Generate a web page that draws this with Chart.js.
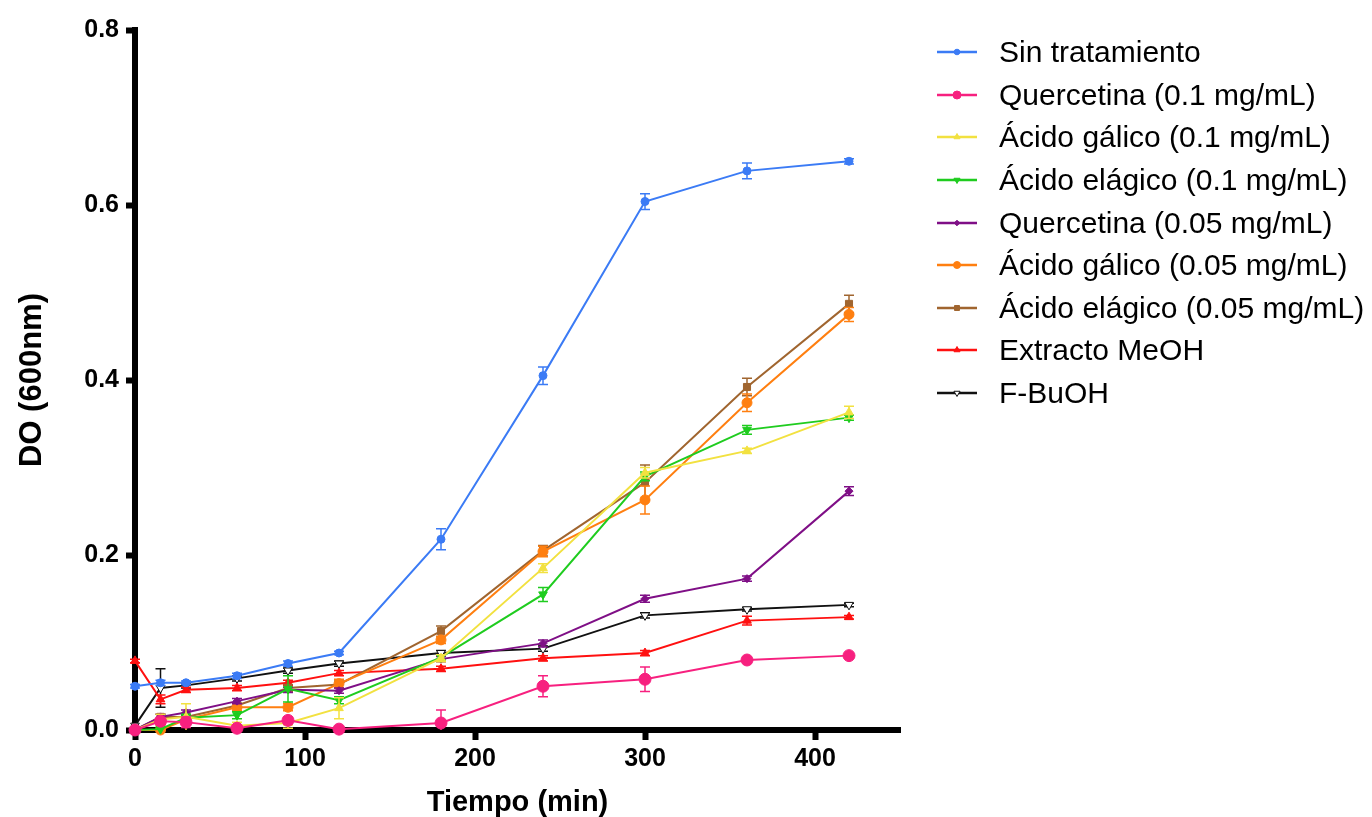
<!DOCTYPE html>
<html>
<head>
<meta charset="utf-8">
<script src="https://cdn.jsdelivr.net/npm/chart.js@4"></script>
<style>
  body { margin: 0; background: #fff; font-family: 'Liberation Sans', Arial, sans-serif; }
  #wrap { position: relative; width: 1372px; height: 817px; }
  #legend { position: absolute; left: 936px; top: 31px; }
  .item { height: 42.6px; display: flex; align-items: center; font-size: 30px; color: #000; white-space: nowrap; }
  .item canvas { margin-right: 21px; }
</style>
</head>
<body>
<div id="wrap">
  <canvas id="growthChart" width="1372" height="817"></canvas>
  <div id="legend"></div>
</div>
<script>
// Time points (min)
let tiempo = [ 0, 15, 30, 60, 90, 120, 180, 240, 300, 360, 420 ];

// DO (600nm) per treatment, with error
let sinTratamiento = [ 0.050, 0.054, 0.054, 0.062, 0.076, 0.088, 0.218, 0.405, 0.604, 0.639, 0.650 ];
let sinTratamientoErr = [ 0.002, 0.003, 0.002, 0.003, 0.003, 0.002, 0.012, 0.010, 0.009, 0.009, 0.003 ];
let quercetina01 = [ 0.000, 0.010, 0.009, 0.002, 0.011, 0.001, 0.008, 0.050, 0.058, 0.080, 0.085 ];
let quercetina01Err = [ 0.000, 0.004, 0.006, 0.002, 0.004, 0.002, 0.015, 0.012, 0.014, 0.003, 0.002 ];
let galico01 = [ 0.000, 0.012, 0.015, 0.005, 0.008, 0.025, 0.082, 0.185, 0.294, 0.319, 0.363 ];
let galico01Err = [ 0.000, 0.006, 0.015, 0.004, 0.006, 0.012, 0.004, 0.005, 0.006, 0.003, 0.007 ];
let elagico01 = [ 0.000, 0.001, 0.014, 0.017, 0.047, 0.034, 0.083, 0.155, 0.290, 0.343, 0.357 ];
let elagico01Err = [ 0.000, 0.002, 0.004, 0.004, 0.015, 0.004, 0.003, 0.008, 0.005, 0.005, 0.003 ];
let quercetina005 = [ 0.000, 0.015, 0.020, 0.033, 0.046, 0.045, 0.081, 0.099, 0.150, 0.173, 0.273 ];
let quercetina005Err = [ 0.000, 0.003, 0.003, 0.003, 0.003, 0.003, 0.003, 0.004, 0.004, 0.003, 0.005 ];
let galico005 = [ 0.000, 0.000, 0.012, 0.026, 0.026, 0.053, 0.103, 0.204, 0.263, 0.374, 0.475 ];
let galico005Err = [ 0.000, 0.005, 0.004, 0.004, 0.004, 0.005, 0.004, 0.006, 0.016, 0.010, 0.008 ];
let elagico005 = [ 0.000, 0.015, 0.015, 0.028, 0.048, 0.052, 0.113, 0.205, 0.283, 0.392, 0.487 ];
let elagico005Err = [ 0.000, 0.003, 0.003, 0.003, 0.004, 0.004, 0.006, 0.006, 0.020, 0.010, 0.010 ];
let extractoMeOH = [ 0.079, 0.035, 0.046, 0.048, 0.054, 0.065, 0.070, 0.082, 0.088, 0.125, 0.129 ];
let extractoMeOHErr = [ 0.002, 0.005, 0.003, 0.003, 0.003, 0.003, 0.003, 0.003, 0.003, 0.005, 0.002 ];
let fBuOH = [ 0.005, 0.048, 0.051, 0.059, 0.068, 0.076, 0.088, 0.093, 0.131, 0.138, 0.143 ];
let fBuOHErr = [ 0.000, 0.022, 0.003, 0.003, 0.003, 0.003, 0.003, 0.003, 0.003, 0.002, 0.002 ];

let xTicks = [ 0, 100, 200, 300, 400 ];
let yTicks = [ 0.0, 0.2, 0.4, 0.6, 0.8 ];

let font = "'Liberation Sans', Arial, sans-serif";

function serie ( label, values, err, color, style, radius, extra )
{
    return Object.assign( {
        label: label,
        data: values.map( ( v, i ) => ( { x: tiempo[ i ], y: v } ) ),
        err: err,
        borderColor: color,
        backgroundColor: color,
        borderWidth: 2,
        pointStyle: style,
        pointRadius: radius,
        pointBorderWidth: 1,
        pointBorderColor: color,
        pointBackgroundColor: color,
        fill: false,
        tension: 0,
        clip: false,
    }, extra || {} );
}

let datasets = [
    serie( 'Sin tratamiento', sinTratamiento, sinTratamientoErr, '#3b7bf5', 'circle', 4 ),
    serie( 'Quercetina (0.1 mg/mL)', quercetina01, quercetina01Err, '#f7207f', 'circle', 6 ),
    serie( 'Ácido gálico (0.1 mg/mL)', galico01, galico01Err, '#f2e140', 'triangle', 5 ),
    serie( 'Ácido elágico (0.1 mg/mL)', elagico01, elagico01Err, '#1fcc1f', 'triangle', 5, { pointRotation: 180 } ),
    serie( 'Quercetina (0.05 mg/mL)', quercetina005, quercetina005Err, '#7f0f86', 'rectRot', 4 ),
    serie( 'Ácido gálico (0.05 mg/mL)', galico005, galico005Err, '#ff7f10', 'circle', 5 ),
    serie( 'Ácido elágico (0.05 mg/mL)', elagico005, elagico005Err, '#a0652f', 'rect', 5 ),
    serie( 'Extracto MeOH', extractoMeOH, extractoMeOHErr, '#ff1010', 'triangle', 5 ),
    serie( 'F-BuOH', fBuOH, fBuOHErr, '#111111', 'triangle', 5, { pointRotation: 180, pointBackgroundColor: '#ffffff' } ),
];

// Error bars drawn through the scales
let errorBars = {
    id: 'errorBars',
    beforeDatasetDraw ( chart, args )
    {
        let ds = chart.data.datasets[ args.index ];
        if ( !ds.err ) return;
        let ctx = chart.ctx, xs = chart.scales.x, ys = chart.scales.y;
        ctx.save();
        ctx.strokeStyle = ds.borderColor;
        ctx.lineWidth = 1.5;
        ds.data.forEach( ( p, i ) =>
        {
            let e = ds.err[ i ];
            if ( !e ) return;
            let px = xs.getPixelForValue( p.x );
            let top = ys.getPixelForValue( p.y + e );
            let bot = ys.getPixelForValue( Math.max( p.y - e, 0 ) );
            ctx.beginPath();
            ctx.moveTo( px, top ); ctx.lineTo( px, bot );
            ctx.moveTo( px - 5, top ); ctx.lineTo( px + 5, top );
            if ( p.y - e > 0 ) { ctx.moveTo( px - 5, bot ); ctx.lineTo( px + 5, bot ); }
            ctx.stroke();
        } );
        ctx.restore();
    }
};

let ctx = document.getElementById( 'growthChart' ).getContext( '2d' );
let chart = new Chart( ctx, {
    type: 'line',
    data: { datasets: datasets },
    plugins: [ errorBars ],
    options: {
        responsive: false,
        animation: false,
        layout: { padding: { left: 0, right: 472, top: 30, bottom: 0 } },
        plugins: { legend: { display: false }, tooltip: { enabled: false } },
        scales: {
            x: {
                type: 'linear',
                min: 0,
                max: 450,
                afterBuildTicks: s => { s.ticks = xTicks.map( v => ( { value: v } ) ); },
                afterFit: s => { s.height = 87; },
                border: { color: '#000', width: 6 },
                grid: { drawOnChartArea: false, drawTicks: true, tickLength: 10, tickWidth: 6, tickColor: '#000' },
                ticks: { color: '#000', padding: 4, font: { family: font, size: 25, weight: 'bold' }, maxRotation: 0 },
                title: { display: true, text: 'Tiempo (min)', color: '#000', padding: { top: 4, bottom: -3 }, font: { family: font, size: 29, weight: 'bold' } },
            },
            y: {
                min: 0,
                max: 0.8,
                afterBuildTicks: s => { s.ticks = yTicks.map( v => ( { value: v } ) ); },
                afterFit: s => { s.width = 135; },
                border: { color: '#000', width: 6 },
                grid: { drawOnChartArea: false, drawTicks: true, tickLength: 9, tickWidth: 6, tickColor: '#000' },
                ticks: { color: '#000', padding: 7, font: { family: font, size: 25, weight: 'bold' }, callback: v => v.toFixed( 1 ) },
                title: { display: true, text: 'DO (600nm)', color: '#000', padding: { top: 14, bottom: 8 }, font: { family: font, size: 31, weight: 'bold' } },
            }
        }
    }
} );

// HTML legend built from the datasets
let legend = document.getElementById( 'legend' );
datasets.forEach( ds =>
{
    let row = document.createElement( 'div' );
    row.className = 'item';
    let c = document.createElement( 'canvas' );
    c.width = 42; c.height = 20;
    let g = c.getContext( '2d' );
    g.strokeStyle = ds.borderColor; g.lineWidth = 2.5;
    g.beginPath(); g.moveTo( 1, 10 ); g.lineTo( 41, 10 ); g.stroke();
    g.fillStyle = ds.pointBackgroundColor; g.strokeStyle = ds.borderColor; g.lineWidth = 1;
    Chart.helpers.drawPoint( g, { pointStyle: ds.pointStyle, radius: Math.min( ds.pointRadius * 0.7, 4 ), rotation: ds.pointRotation || 0, borderWidth: 1 }, 21, 10 );
    row.appendChild( c );
    let t = document.createElement( 'span' );
    t.textContent = ds.label;
    row.appendChild( t );
    legend.appendChild( row );
} );
</script>
</body>
</html>
